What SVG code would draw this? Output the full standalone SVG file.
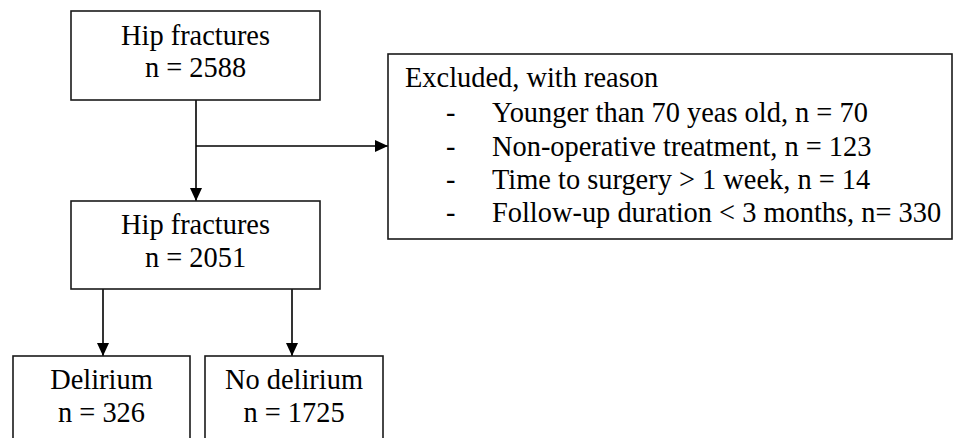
<svg xmlns="http://www.w3.org/2000/svg" width="954" height="438" viewBox="0 0 954 438">
<style>
.box{fill:#fff;stroke:#1a1a1a;stroke-width:1.6}
.t{font-family:'Liberation Serif',Tinos,'Times New Roman',Times,'Noto Serif','DejaVu Serif',serif;font-size:28.4px;fill:#000}
.c{text-anchor:middle}
.ln{stroke:#000;stroke-width:1.6;fill:none}
</style>
<defs>
<marker id="ah" markerUnits="userSpaceOnUse" markerWidth="13" markerHeight="12" refX="13" refY="6" orient="auto">
<path d="M0,0 L13,6 L0,12 Z" fill="#000"/>
</marker>
</defs>
<rect width="954" height="438" fill="#fff"/>
<g id="connectors">
<line class="ln" x1="196" y1="100" x2="196" y2="201" marker-end="url(#ah)"/>
<line class="ln" x1="196" y1="146" x2="388" y2="146" marker-end="url(#ah)"/>
<line class="ln" x1="103" y1="289" x2="103" y2="356" marker-end="url(#ah)"/>
<line class="ln" x1="292" y1="289" x2="292" y2="356" marker-end="url(#ah)"/>
</g>
<g id="n1">
<rect class="box" x="71" y="11" width="249" height="89"/>
<text class="t c" x="195.5" y="45">Hip fractures</text>
<text class="t c" x="195.5" y="77">n = 2588</text>
</g>
<g id="n2">
<rect class="box" x="71" y="201" width="249" height="88"/>
<text class="t c" x="195.5" y="234">Hip fractures</text>
<text class="t c" x="195.5" y="267">n = 2051</text>
</g>
<g id="excluded">
<rect class="box" x="388" y="54" width="564" height="185"/>
<text class="t" x="405" y="87">Excluded, with reason</text>
<text class="t" x="446" y="122">-</text>
<text class="t" x="492" y="122">Younger than 70 yeas old, n = 70</text>
<text class="t" x="446" y="155.5">-</text>
<text class="t" x="492" y="155.5">Non-operative treatment, n = 123</text>
<text class="t" x="446" y="189">-</text>
<text class="t" x="492" y="189">Time to surgery &gt; 1 week, n = 14</text>
<text class="t" x="446" y="222">-</text>
<text class="t" x="492" y="222">Follow-up duration &lt; 3 months, n= 330</text>
</g>
<g id="delirium">
<rect class="box" x="13" y="356" width="177" height="100"/>
<text class="t c" x="101.5" y="389">Delirium</text>
<text class="t c" x="101.5" y="422">n = 326</text>
</g>
<g id="nodelirium">
<rect class="box" x="205" y="356" width="178" height="100"/>
<text class="t c" x="294" y="389">No delirium</text>
<text class="t c" x="294" y="422">n = 1725</text>
</g>
</svg>
